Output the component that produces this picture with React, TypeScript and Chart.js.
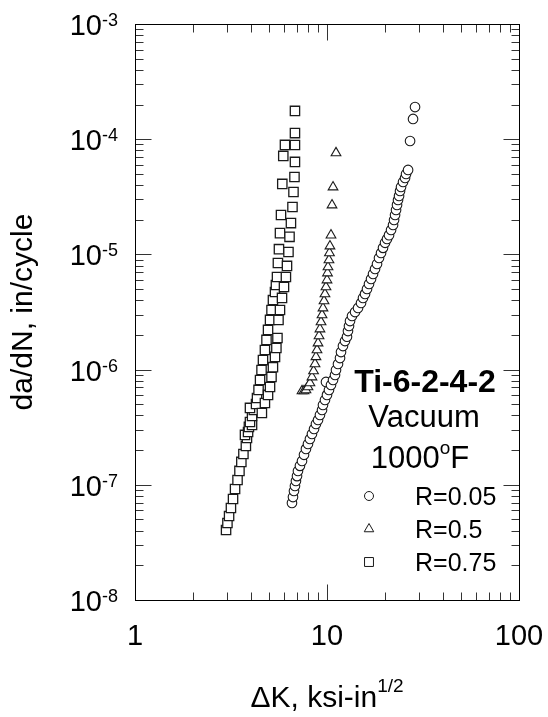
import React, { useEffect, useRef } from 'react';
import { Chart, registerables } from 'chart.js';

Chart.register(...registerables);

// ---- axis ticks ----
const xTickValues = [1, 10, 100];
const xTickLabels = ['1', '10', '100'];
const yTickValues = [1e-3, 1e-4, 1e-5, 1e-6, 1e-7, 1e-8];
const yTickExponents = ['-3', '-4', '-5', '-6', '-7', '-8'];
const xMinorTicks = [2, 3, 4, 5, 6, 7, 8, 9, 20, 30, 40, 50, 60, 70, 80, 90];
const yDecades = [1e-8, 1e-7, 1e-6, 1e-5, 1e-4];
const minorMultipliers = [2, 3, 4, 5, 6, 7, 8, 9];

// ---- text ----
const xTitleMain = '\u0394K, ksi-in';
const xTitleSup = '1/2';
const yTitle = 'da/dN, in/cycle';
const alloyLabel = 'Ti-6-2-4-2';
const envLabel = 'Vacuum';
const tempLabel = '1000';
const tempSup = 'o';
const tempUnit = 'F';
const seriesNames = ['R=0.05', 'R=0.5', 'R=0.75'];

// ---- data: R = 0.05 (circles) ----
const r005DeltaK = [6.57, 6.65, 6.73, 6.81, 6.89, 6.98, 7.06, 7.23, 7.41, 7.59, 7.77, 7.96, 8.15, 8.35, 8.56, 8.76, 8.98, 9.19, 9.42, 9.53, 9.76, 10.0, 10.24, 9.88, 10.49, 10.75, 11.01, 11.14, 11.41, 11.69, 11.83, 12.11, 12.41, 12.71, 12.86, 13.02, 13.18, 13.5, 14.0, 14.51, 15.04, 15.4, 15.78, 16.16, 16.55, 16.96, 17.37, 17.79, 18.22, 18.66, 19.12, 19.58, 20.06, 20.54, 21.04, 21.56, 22.08, 22.35, 22.62, 22.89, 23.16, 23.44, 23.73, 24.01, 24.3, 24.89, 25.5, 25.81, 26.44, 27.08, 28.06, 28.74];
const r005Rate = [6.95e-8, 7.83e-8, 8.84e-8, 9.76e-8, 1.08e-7, 1.19e-7, 1.32e-7, 1.46e-7, 1.61e-7, 1.82e-7, 2.05e-7, 2.26e-7, 2.5e-7, 2.76e-7, 3.05e-7, 3.37e-7, 3.65e-7, 4.04e-7, 4.46e-7, 4.93e-7, 5.45e-7, 6.03e-7, 6.66e-7, 7.81e-7, 7.36e-7, 8.13e-7, 8.99e-7, 9.92e-7, 1.12e-6, 1.26e-6, 1.42e-6, 1.6e-6, 1.77e-6, 1.93e-6, 2.16e-6, 2.39e-6, 2.64e-6, 2.92e-6, 3.16e-6, 3.43e-6, 3.79e-6, 4.19e-6, 4.54e-6, 5.01e-6, 5.54e-6, 6.12e-6, 6.77e-6, 7.48e-6, 8.26e-6, 9.32e-6, 1.03e-5, 1.14e-5, 1.26e-5, 1.36e-5, 1.47e-5, 1.63e-5, 1.8e-5, 1.99e-5, 2.2e-5, 2.43e-5, 2.69e-5, 2.97e-5, 3.22e-5, 3.55e-5, 3.85e-5, 4.25e-5, 4.61e-5, 4.99e-5, 5.41e-5, 9.65e-5, 1.5e-4, 1.9e-4];

// ---- data: R = 0.5 (triangles) ----
const r05DeltaK = [7.41, 7.59, 7.77, 7.96, 8.15, 8.35, 8.51, 8.66, 8.76, 8.87, 8.98, 9.09, 9.19, 9.31, 9.42, 9.53, 9.65, 9.76, 9.88, 10.0, 10.06, 10.12, 10.24, 10.3, 10.36, 10.49, 10.62, 10.75, 11.14];
const r05Rate = [6.52e-7, 6.52e-7, 6.65e-7, 7.06e-7, 7.65e-7, 8.62e-7, 9.72e-7, 1.12e-6, 1.29e-6, 1.48e-6, 1.7e-6, 1.96e-6, 2.25e-6, 2.59e-6, 2.98e-6, 3.42e-6, 3.94e-6, 4.53e-6, 5.21e-6, 5.99e-6, 6.89e-6, 7.77e-6, 8.94e-6, 1.03e-5, 1.18e-5, 1.47e-5, 2.68e-5, 3.84e-5, 7.59e-5];

// ---- data: R = 0.75 (squares) ----
const r075DeltaK = [2.98, 3.03, 3.09, 3.16, 3.24, 3.32, 3.42, 3.5, 3.58, 3.67, 3.78, 3.83, 3.74, 3.88, 3.92, 4.07, 3.97, 4.07, 4.16, 3.97, 4.27, 4.32, 4.4, 4.48, 4.56, 4.64, 4.75, 4.84, 4.93, 5.05, 5.14, 5.23, 5.36, 5.42, 5.49, 5.55, 5.62, 5.69, 5.76, 5.85, 5.92, 6.04, 4.58, 4.75, 4.93, 5.05, 5.14, 5.23, 5.36, 5.45, 5.52, 5.59, 5.69, 5.83, 5.97, 6.11, 6.19, 6.3, 6.38, 6.49, 6.61, 6.69, 6.77, 6.81, 6.81, 6.81, 6.81];
const r075Rate = [4.05e-8, 4.66e-8, 5.36e-8, 6.29e-8, 7.53e-8, 9.19e-8, 1.1e-7, 1.32e-7, 1.58e-7, 1.85e-7, 2.17e-7, 2.55e-7, 2.71e-7, 2.87e-7, 3.18e-7, 3.31e-7, 3.51e-7, 3.96e-7, 4.46e-7, 4.65e-7, 5.03e-7, 5.67e-7, 6.66e-7, 8.13e-7, 9.92e-7, 1.21e-6, 1.48e-6, 1.81e-6, 2.21e-6, 2.7e-6, 3.29e-6, 4.02e-6, 4.72e-6, 5.43e-6, 6.37e-6, 8.43e-6, 1.11e-5, 1.53e-5, 2.2e-5, 4.09e-5, 7.16e-5, 8.92e-5, 4.2e-7, 5.13e-7, 6.03e-7, 7.07e-7, 8.64e-7, 1.05e-6, 1.29e-6, 1.54e-6, 1.88e-6, 2.7e-6, 3.29e-6, 4.19e-6, 5.22e-6, 6.37e-6, 7.94e-6, 1.05e-5, 1.42e-5, 1.87e-5, 2.58e-5, 3.48e-5, 4.7e-5, 6.35e-5, 8.9e-5, 1.13e-4, 1.76e-4];

const FONT = '"Liberation Sans", Arial, Helvetica, sans-serif';
const INK = '#000';
const MARK = '#1a1a1a';

function toPoints(xs: number[], ys: number[]) {
  return xs.map((x, i) => ({ x, y: ys[i] }));
}

function drawMarker(ctx: CanvasRenderingContext2D, shape: string, x: number, y: number, r: number) {
  ctx.beginPath();
  if (shape === 'circle') {
    ctx.arc(x, y, r, 0, Math.PI * 2);
  } else if (shape === 'triangle') {
    ctx.moveTo(x, y - r);
    ctx.lineTo(x + r * 0.866, y + r * 0.5);
    ctx.lineTo(x - r * 0.866, y + r * 0.5);
    ctx.closePath();
  } else {
    const s = r * 0.707;
    ctx.rect(x - s, y - s, 2 * s, 2 * s);
  }
  ctx.fillStyle = '#fff';
  ctx.fill();
  ctx.stroke();
}

const decorations = {
  id: 'decorations',
  afterDraw(chart: any) {
    const ctx: CanvasRenderingContext2D = chart.ctx;
    const { left, right, top, bottom } = chart.chartArea;
    const xs = chart.scales.x;
    const ys = chart.scales.y;
    ctx.save();

    const L = Math.round(left) + 0.5;
    const R = Math.round(right) + 0.5;
    const T = Math.round(top) + 0.5;
    const B = Math.round(bottom) + 0.5;

    const seg = (x1: number, y1: number, x2: number, y2: number) => {
      ctx.beginPath();
      ctx.moveTo(x1, y1);
      ctx.lineTo(x2, y2);
      ctx.stroke();
    };

    // inward ticks on all four sides
    ctx.strokeStyle = '#333';
    ctx.lineWidth = 1;
    const minorLen = 8;
    const majorLen = 16;
    xMinorTicks.forEach((v) => {
      const px = Math.round(xs.getPixelForValue(v)) + 0.5;
      seg(px, B, px, B - minorLen);
      seg(px, T, px, T + minorLen);
    });
    xTickValues.forEach((v) => {
      const px = Math.round(xs.getPixelForValue(v)) + 0.5;
      seg(px, B, px, B - majorLen);
      seg(px, T, px, T + majorLen);
    });
    yDecades.forEach((d) => {
      minorMultipliers.forEach((m) => {
        const py = Math.round(ys.getPixelForValue(d * m)) + 0.5;
        seg(L, py, L + minorLen, py);
        seg(R, py, R - minorLen, py);
      });
    });
    yTickValues.forEach((v) => {
      const py = Math.round(ys.getPixelForValue(v)) + 0.5;
      seg(L, py, L + majorLen, py);
      seg(R, py, R - majorLen, py);
    });

    // frame
    ctx.strokeStyle = INK;
    ctx.strokeRect(L, T, R - L, B - T);

    ctx.fillStyle = INK;
    ctx.textBaseline = 'alphabetic';

    // y tick labels 10^n
    yTickValues.forEach((v, i) => {
      const py = ys.getPixelForValue(v);
      ctx.font = `29px ${FONT}`;
      const wM = ctx.measureText('10').width;
      ctx.font = `18px ${FONT}`;
      const wS = ctx.measureText(yTickExponents[i]).width;
      const x0 = left - 17 - wS - wM;
      ctx.textAlign = 'left';
      ctx.font = `29px ${FONT}`;
      ctx.fillText('10', x0, py + 11);
      ctx.font = `18px ${FONT}`;
      ctx.fillText(yTickExponents[i], x0 + wM, py + 2);
    });

    // x tick labels
    ctx.font = `29px ${FONT}`;
    ctx.textAlign = 'center';
    xTickValues.forEach((v, i) => {
      const px = xs.getPixelForValue(v);
      ctx.fillText(xTickLabels[i], px, bottom + 45);
    });

    // x title with superscript
    ctx.font = `30px ${FONT}`;
    const wMain = ctx.measureText(xTitleMain).width;
    ctx.font = `19px ${FONT}`;
    const wSup = ctx.measureText(xTitleSup).width;
    const xStart = (left + right) / 2 - (wMain + wSup) / 2;
    ctx.textAlign = 'left';
    ctx.font = `30px ${FONT}`;
    ctx.fillText(xTitleMain, xStart, bottom + 107);
    ctx.font = `19px ${FONT}`;
    ctx.fillText(xTitleSup, xStart + wMain, bottom + 92);

    // y title
    ctx.save();
    ctx.translate(32, (top + bottom) / 2);
    ctx.rotate(-Math.PI / 2);
    ctx.textAlign = 'center';
    ctx.font = `30px ${FONT}`;
    ctx.fillText(yTitle, 0, 0);
    ctx.restore();

    // annotation block
    const cx = right - 96;
    ctx.textAlign = 'center';
    ctx.font = `bold 32px ${FONT}`;
    ctx.fillText(alloyLabel, cx + 2, top + 368);
    ctx.font = `31px ${FONT}`;
    ctx.fillText(envLabel, cx + 1, top + 403);

    ctx.font = `31px ${FONT}`;
    const wT = ctx.measureText(tempLabel).width;
    const wF = ctx.measureText(tempUnit).width;
    ctx.font = `19px ${FONT}`;
    const wO = ctx.measureText(tempSup).width;
    const tx = cx - 3 - (wT + wO + wF) / 2;
    ctx.textAlign = 'left';
    ctx.font = `31px ${FONT}`;
    ctx.fillText(tempLabel, tx, top + 444);
    ctx.font = `19px ${FONT}`;
    ctx.fillText(tempSup, tx + wT, top + 430);
    ctx.font = `31px ${FONT}`;
    ctx.fillText(tempUnit, tx + wT + wO, top + 444);

    // legend
    const shapes = ['circle', 'triangle', 'rect'];
    const radii = [4.5, 5.5, 6.3];
    ctx.strokeStyle = MARK;
    ctx.lineWidth = 1;
    ctx.font = `25px ${FONT}`;
    ctx.textAlign = 'left';
    seriesNames.forEach((name, i) => {
      const yy = top + 472 + i * 33;
      drawMarker(ctx, shapes[i], right - 150, yy, radii[i]);
      ctx.fillStyle = INK;
      ctx.fillText(name, right - 104, yy + 9);
    });

    ctx.restore();
  },
};

export default function App() {
  const canvasRef = useRef<HTMLCanvasElement | null>(null);

  useEffect(() => {
    const canvas = canvasRef.current;
    if (!canvas) return;
    const chart = new Chart(canvas, {
      type: 'scatter',
      data: {
        datasets: [
          {
            label: seriesNames[0],
            data: toPoints(r005DeltaK, r005Rate),
            pointStyle: 'circle',
            pointRadius: 4.8,
            borderWidth: 1.1,
            borderColor: MARK,
            backgroundColor: '#fff',
            showLine: false,
          },
          {
            label: seriesNames[1],
            data: toPoints(r05DeltaK, r05Rate),
            pointStyle: 'triangle',
            pointRadius: 5.6,
            borderWidth: 1.1,
            borderColor: MARK,
            backgroundColor: '#fff',
            showLine: false,
          },
          {
            label: seriesNames[2],
            data: toPoints(r075DeltaK, r075Rate),
            pointStyle: 'rect',
            pointRadius: 6.6,
            borderWidth: 1.3,
            borderColor: MARK,
            backgroundColor: '#fff',
            showLine: false,
          },
        ],
      },
      options: {
        animation: false,
        responsive: false,
        devicePixelRatio: 1,
        layout: { padding: { left: 135, top: 24, right: 29, bottom: 117 } },
        plugins: {
          legend: { display: false },
          tooltip: { enabled: false },
        },
        scales: {
          x: { type: 'logarithmic', min: 1, max: 100, display: false },
          y: { type: 'logarithmic', min: 1e-8, max: 1e-3, display: false },
        },
      },
      plugins: [decorations],
    });
    return () => chart.destroy();
  }, []);

  return (
    <div style={{ position: 'absolute', left: 0, top: 0, width: 548, height: 717, background: '#fff' }}>
      <canvas ref={canvasRef} width={548} height={717} style={{ display: 'block' }} />
    </div>
  );
}
